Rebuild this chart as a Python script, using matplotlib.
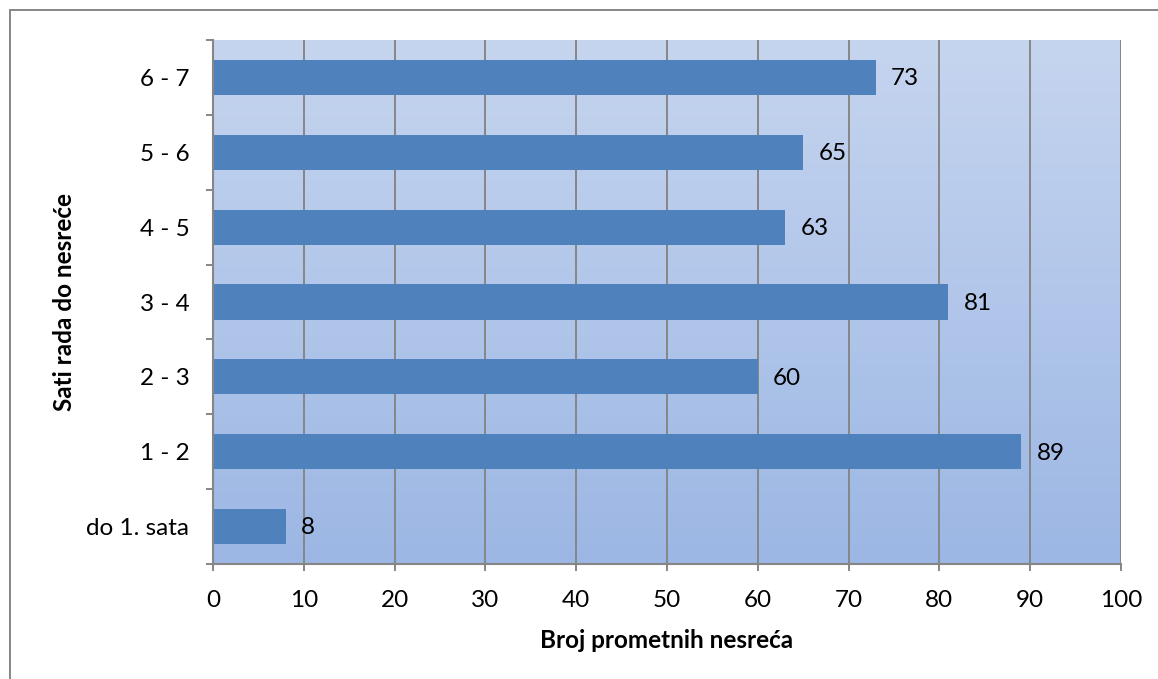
import matplotlib
matplotlib.use("Agg")
import matplotlib.pyplot as plt
import numpy as np
from matplotlib.patches import Rectangle
from matplotlib.colors import LinearSegmentedColormap

categories = ["do 1. sata", "1 - 2", "2 - 3", "3 - 4", "4 - 5", "5 - 6", "6 - 7"]
values = [8, 89, 60, 81, 63, 65, 73]
x_ticks = [0, 10, 20, 30, 40, 50, 60, 70, 80, 90, 100]
x_label = "Broj prometnih nesreća"
y_label = "Sati rada do nesreće"

plt.rcParams["font.family"] = ["Lato", "DejaVu Sans"]

W, H = 1158, 679
fig = plt.figure(figsize=(W / 100, H / 100), dpi=100)
ax = fig.add_axes([213 / W, 1 - 564 / H, (1121 - 213) / W, (564 - 40) / H])

grid_col = "#868686"
fs = 17.5

# vertical gradient background of the plot area
grad = np.linspace(0, 1, 256).reshape(-1, 1)
cmap = LinearSegmentedColormap.from_list("bg", ["#9cb7e4", "#c6d5ef"])
ax.imshow(grad, aspect="auto", cmap=cmap, origin="lower",
          extent=[0, 1, 0, 1], transform=ax.transAxes, zorder=0)

y = np.arange(len(categories))
ax.barh(y, values, height=0.47, color="#4f81bd", zorder=3)

for yi, v in zip(y, values):
    ax.annotate(str(v), (v, yi), xytext=(11, -1), textcoords="offset points",
                va="center", ha="left", fontsize=fs, color="black", zorder=4)

ax.set_xlim(0, 100)
ax.set_ylim(-0.5, len(categories) - 0.5)
ax.set_xticks(x_ticks)
ax.set_xticklabels([str(t) for t in x_ticks], fontsize=fs)

ax.set_yticks(y)
ax.set_yticklabels(categories, fontsize=fs)
ax.tick_params(axis="y", length=0, pad=17)
ax.set_yticks(np.arange(-0.5, len(categories), 1), minor=True)
ax.tick_params(axis="y", which="minor", length=5, width=1.4, color=grid_col, direction="out")
ax.tick_params(axis="x", length=5, width=1.4, color=grid_col, direction="out", pad=14)

ax.grid(axis="x", color=grid_col, linewidth=1.4, zorder=1)
ax.set_axisbelow(True)
for s in ["top", "right"]:
    ax.spines[s].set_visible(False)
for s in ["left", "bottom"]:
    ax.spines[s].set_color(grid_col)
    ax.spines[s].set_linewidth(1.5)
    ax.spines[s].set_zorder(5)

fig.text((1121 + 213) / 2 / W, 1 - 641 / H, x_label, ha="center", va="center",
         fontsize=fs, fontweight="bold")
fig.text(65 / W, 1 - 302 / H, y_label, ha="center", va="center", rotation=90,
         fontsize=fs, fontweight="bold")

# chart frame
fig.patches.append(Rectangle((10 / W, -0.1), 1.2, 1.1 - 10.5 / H, transform=fig.transFigure,
                             fill=False, edgecolor=grid_col, linewidth=1.4))

fig.savefig("out.png", dpi=100)
